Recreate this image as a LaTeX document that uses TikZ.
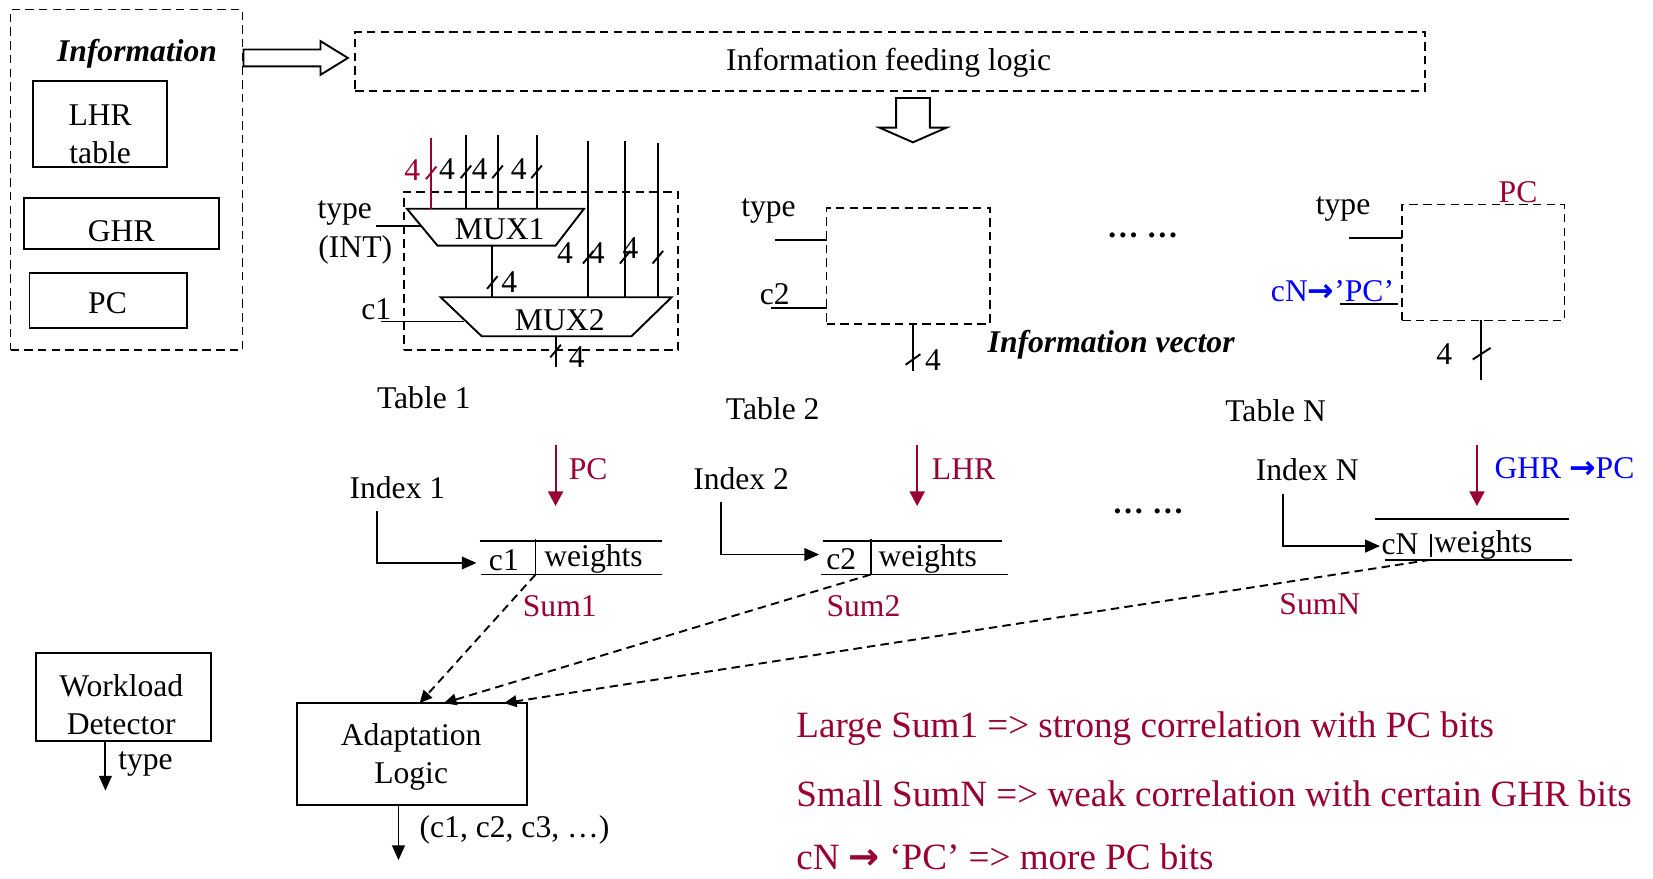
\documentclass[tikz,border=0pt]{standalone}
\usepackage{fontspec}
\setmainfont{Liberation Serif}
\newfontfamily\symfont{DejaVu Sans}
\usetikzlibrary{arrows.meta,calc,fit}
\definecolor{dred}{RGB}{153,0,51}
\definecolor{bblue}{RGB}{0,0,255}
\newcommand\myfs{\fontsize{15}{18}\selectfont}
\newcommand\bigfs{\fontsize{17.6}{21}\selectfont}
\newcommand\thickarrow{{\symfont\bfseries →}}
\newcommand\busmark[3][]{\draw[wire,#1] (#2,#3) ++(-5,6) -- ++(10,-12);}
\newcommand\wbusmark[2]{\draw[wire] (#1,#2) ++(-7,5) -- ++(14,-10);}
\begin{document}
\begin{tikzpicture}[x=0.5pt,y=-0.5pt,
  txt/.style={font=\myfs, inner sep=0pt, align=center, yshift=-1pt},
  redtxt/.style={text=dred},
  bluetxt/.style={text=bblue},
  box/.style={draw, line width=0.9pt, inner sep=0pt},
  dbox/.style={draw, line width=0.9pt, dash pattern=on 4pt off 2.5pt, inner sep=0pt},
  wire/.style={line width=0.9pt},
  dwire/.style={line width=0.9pt, dash pattern=on 4pt off 2.5pt},
  arr/.style={wire, -{Triangle[length=7pt,width=6pt]}},
  rarr/.style={wire, draw=dred, -{Triangle[length=7pt,width=7.2pt]}},
  darr/.style={dwire, -{Triangle[length=6pt,width=5.5pt]}},
  blk/.style={draw, line width=0.9pt, fill=white},
  mux/.style={draw, line width=0.9pt}
]
\useasboundingbox (0,0) rectangle (1568,833);

% ---------- Information block ----------
\node[dbox, fit={(10,9) (230,332)}] (info) {};
\node[txt, font=\myfs\bfseries\itshape] (infot) at (130,49) {Information};
\node[box, fit={(31,77) (158,158)}] (lhr) {};
\node[txt] (lhrt) at (95,125) {LHR\\table};
\node[box, fit={(23,188) (208,236)}] (ghr) {};
\node[txt] (ghrt) at (115,217) {GHR};
\node[box, fit={(28,259) (177,311)}] (pcb) {};
\node[txt] (pct) at (102,286) {PC};

\draw[blk] (231,47) -- (304,47) -- (304,39) -- (330,55) -- (304,71) -- (304,63) -- (231,63) -- cycle;

% ---------- Feeding logic ----------
\node[dbox, fit={(337,30) (1352,86)}] (feed) {};
\node[txt] (feedt) at (843,58) {Information feeding logic};
\draw[blk] (850,93) -- (882,93) -- (882,121) -- (898,121) -- (866,135) -- (834,121) -- (850,121) -- cycle;

% ---------- Table 1 ----------
\node[dbox, fit={(383,182) (643,332)}] (t1) {};
\draw[mux] (386,198) -- (554,198) -- (527,233) -- (415,233) -- cycle;
\node[txt] (mux1) at (474,215) {MUX1};
\draw[wire, draw=dred] (409,131) -- (409,198);
\draw[wire] (442,128) -- (442,198);
\draw[wire] (472,128) -- (472,198);
\draw[wire] (509,128) -- (509,198);
\busmark[draw=dred]{409}{164}
\busmark{442}{163}
\busmark{472}{163}
\busmark{509}{163}
\node[txt, redtxt] at (391,159) {4};
\node[txt] at (424,158) {4};
\node[txt] at (455,158) {4};
\node[txt] at (492,158) {4};

\draw[mux] (418,282) -- (637,282) -- (599,319) -- (457,319) -- cycle;
\node[txt] (mux2) at (531,302) {MUX2};
\draw[wire] (467,233) -- (467,282);
\busmark{467}{268}
\node[txt] at (483,266) {4};
\draw[wire] (558,134) -- (558,282);
\draw[wire] (593,134) -- (593,282);
\draw[wire] (624,136) -- (624,282);
\busmark{558}{244}
\busmark{593}{244}
\busmark{624}{244}
\node[txt] at (536,238) {4};
\node[txt] at (566,238) {4};
\node[txt] at (598,233) {4};

\node[txt] (type1) at (327,200) {type};
\node[txt] (int1) at (337,235) {(INT)};
\draw[wire] (357,214) -- (399,214);
\node[txt] (c1in) at (357,291) {c1};
\draw[wire] (361,305) -- (440,305);
\draw[wire] (527,319) -- (527,348);
\busmark{527}{333}
\node[txt] at (547,337) {4};
\node[txt] (tab1) at (402,375) {Table 1};

% ---------- Table 2 ----------
\node[dbox, fit={(784,197) (939,307)}] (t2) {};
\node[txt] (type2) at (729,198) {type};
\draw[wire] (735,228) -- (784,228);
\node[txt] (c2in) at (735,277) {c2};
\draw[wire] (731,292) -- (784,292);
\draw[wire] (866,307) -- (866,352);
\wbusmark{866}{341}
\node[txt] at (885,340) {4};
\node[txt] (tab2) at (733,386) {Table 2};

\node[txt] (dots1) at (1084,221) {\bfseries … …};
\node[txt, font=\myfs\bfseries\itshape] (ivec) at (1054,325) {Information vector};

% ---------- Table N ----------
\node[dbox, fit={(1330,194) (1484,304)}] (tN) {};
\node[txt, redtxt] (pcN) at (1440,180) {PC};
\node[txt] (typeN) at (1274,196) {type};
\draw[wire] (1280,226) -- (1330,226);
\node[txt, bluetxt] (cNin) at (1264,274) {cN\thickarrow’PC’};
\draw[wire] (1271,288) -- (1326,288);
\draw[wire] (1405,304) -- (1405,360);
\draw[wire] (1405,335) ++(-8,6) -- ++(17,-11);
\node[txt] at (1370,334) {4};
\node[txt] (tabN) at (1210,388) {Table N};

% ---------- Entry 1 ----------
\draw[wire] (455,513) -- (628,513);
\draw[wire] (456,545) -- (628,545);
\draw[wire] (508,511) -- (508,545);
\node[txt] (c1e) at (478,529) {c1};
\node[txt] (w1) at (563,528) {weights};
\node[txt] (idx1) at (377,461) {Index 1};
\coordinate (i1a) at (358,485);
\coordinate (i1b) at (452,534);
\draw[arr] (i1a) |- (i1b);
\coordinate (p1a) at (527,422);
\coordinate (p1b) at (527,480);
\draw[rarr] (p1a) -- (p1b);
\node[txt, redtxt] (pc1) at (558,443) {PC};
\node[txt, redtxt] (sum1) at (531,573) {Sum1};
\coordinate (s1) at (508,545);

% ---------- Entry 2 ----------
\draw[wire] (781,513) -- (950,513);
\draw[wire] (779,545) -- (956,545);
\draw[wire] (826,511) -- (826,545);
\node[txt] (c2e) at (798,528) {c2};
\node[txt] (w2) at (880,528) {weights};
\node[txt] (idx2) at (703,452) {Index 2};
\coordinate (i2a) at (684,476);
\coordinate (i2b) at (777,526);
\draw[arr] (i2a) |- (i2b);
\coordinate (p2a) at (870,422);
\coordinate (p2b) at (870,480);
\draw[rarr] (p2a) -- (p2b);
\node[txt, redtxt] (lhr2) at (914,443) {LHR};
\node[txt, redtxt] (sum2) at (819,573) {Sum2};
\coordinate (s2) at (826,545);

\node[txt] (dots2) at (1089,483) {\bfseries … …};

% ---------- Entry N ----------
\draw[wire] (1304,492) -- (1488,492);
\draw[wire] (1314,531) -- (1491,531);
\draw[wire] (1357,507) -- (1357,528);
\node[txt] (cNe) at (1328,514) {cN};
\node[txt] (wN) at (1407,515) {weights};
\node[txt] (idxN) at (1240,444) {Index N};
\coordinate (iNa) at (1217,469);
\coordinate (iNb) at (1309,518);
\draw[arr] (iNa) |- (iNb);
\coordinate (pNa) at (1401,422);
\coordinate (pNb) at (1401,480);
\draw[rarr] (pNa) -- (pNb);
\node[txt, bluetxt] (ghrN) at (1484,442) {GHR \thickarrow PC};
\node[txt, redtxt] (sumN) at (1252,571) {SumN};
\coordinate (sN) at (1357,531);

% ---------- Adaptation logic ----------
\node[box, fit={(282,667) (500,764)}] (adapt) {};
\node[txt] (adaptt) at (390,716) {Adaptation\\Logic};
\coordinate (a1) at (398,667);
\coordinate (a2) at (421,667);
\coordinate (a3) at (478,667);
\draw[darr] (s1) -- (a1);
\draw[darr] (s2) -- (a2);
\draw[darr] (sN) -- (a3);
\coordinate (aout) at (378,816);
\draw[arr] (adapt.south -| aout) -- (aout);
\node[txt] (cvec) at (488,785) {(c1, c2, c3, …)};

% ---------- Workload detector ----------
\node[box, fit={(34,619) (200,703)}] (wd) {};
\node[txt] (wdt) at (115,666) {Workload\\Detector};
\coordinate (wout) at (100,750);
\draw[arr] (wd.south -| wout) -- (wout);
\node[txt] (wtype) at (138,723) {type};

% ---------- Notes ----------
\node[txt, font=\bigfs, redtxt, anchor=west] (n1) at (755,689) {Large Sum1 => strong correlation with PC bits};
\node[txt, font=\bigfs, redtxt, anchor=west] (n2) at (755,751) {Small SumN => weak correlation with certain GHR bits};
\node[txt, font=\bigfs, redtxt, anchor=west] (n3) at (755,811) {cN \thickarrow{} ‘PC’ => more PC bits};
\end{tikzpicture}
\end{document}
